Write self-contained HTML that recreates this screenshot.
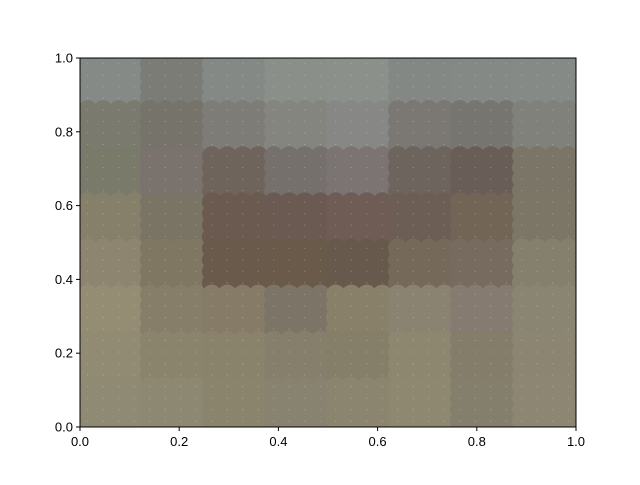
<!DOCTYPE html>
<html><head><meta charset="utf-8"><style>
body{margin:0;background:#fff;}
svg text{font-family:"Liberation Sans","DejaVu Sans",sans-serif;font-size:13px;fill:#000;}
</style></head><body>
<svg id="chart" width="640" height="480" viewBox="0 0 640 480">
<defs><clipPath id="clip"><rect x="80" y="58" width="496" height="369"/></clipPath></defs>
<rect x="80" y="58" width="496" height="369" fill="#7e7a6c"/>
<g id="marks" clip-path="url(#clip)"></g>
<g id="axes"></g>
<rect x="80" y="58" width="496" height="369" fill="none" stroke="#000" stroke-width="1"/>
</svg>
<script>
// Color blocks (8x8), top row first; each block covers 4x4 points of a 32x32 grid
const colorRows = [
 ["#858a86","#7c7c77","#858985","#8a8f89","#8b908a","#848884","#848986","#858a86"],
 ["#7a7b6e","#76736a","#7d7c76","#858580","#878786","#7b7772","#77756f","#80817a"],
 ["#7a7a6a","#7a726c","#6e645c","#75706c","#7b7473","#6e645e","#685d57","#7a7567"],
 ["#86806a","#7a7464","#6a5a50","#6b5a52","#6e5c55","#6c5e54","#726556","#7c7667"],
 ["#8d8570","#807763","#6a5a4b","#6a5a4a","#675a4c","#75695a","#776b5f","#857f6d"],
 ["#958c74","#867e69","#857b67","#7d7468","#898069","#8a8371","#857b70","#8a8472"],
 ["#928b73","#8a846d","#8a836b","#857f6c","#857e68","#8e8770","#837d6a","#8c8571"],
 ["#8f8a74","#8d8872","#8a846c","#888270","#8b856f","#8e8870","#847f6c","#8c8672"]
];
const gridN = 32;
const xTicks = [0,0.2,0.4,0.6,0.8,1.0];
const yTicks = [0,0.2,0.4,0.6,0.8,1.0];
const xTickLabels = ["0.0","0.2","0.4","0.6","0.8","1.0"];
const yTickLabels = ["0.0","0.2","0.4","0.6","0.8","1.0"];

const X0=80,X1=576,Y0=427,Y1=58;
const sx=v=>X0+v*(X1-X0);
const sy=v=>Y0-v*(Y0-Y1);
const NS="http://www.w3.org/2000/svg";
const marks=document.getElementById('marks');
for(let r=0;r<gridN;r++){
  for(let c=0;c<gridN;c++){
    const xv=(c+0.5)/gridN, yv=1-(r+0.5)/gridN;
    const col=colorRows[Math.floor(r/4)][Math.floor(c/4)];
    const ci=document.createElementNS(NS,'circle');
    ci.setAttribute('cx',sx(xv));ci.setAttribute('cy',sy(yv));
    ci.setAttribute('r',9.8);ci.setAttribute('fill',col);
    
    
    marks.appendChild(ci);
  }
}
for(let r=0;r<gridN;r++){
  for(let c=0;c<gridN;c++){
    const xv=(c+0.5)/gridN, yv=1-(r+0.5)/gridN;
    const d=document.createElementNS(NS,'rect');
    d.setAttribute('x',sx(xv)-0.5);d.setAttribute('y',sy(yv)-0.5);
    d.setAttribute('width',1);d.setAttribute('height',1);
    d.setAttribute('fill','#fff');d.setAttribute('opacity','0.3');
    
    
    marks.appendChild(d);
  }
}
const axes=document.getElementById('axes');
xTicks.forEach((t,i)=>{
  const l=document.createElementNS(NS,'line');
  l.setAttribute('x1',sx(t));l.setAttribute('x2',sx(t));l.setAttribute('y1',Y0);l.setAttribute('y2',Y0+4);
  l.setAttribute('stroke','#000');
  
  
  axes.appendChild(l);
  const tx=document.createElementNS(NS,'text');
  tx.setAttribute('x',sx(t));tx.setAttribute('y',Y0+19);tx.setAttribute('text-anchor','middle');
  tx.textContent=xTickLabels[i];
  
  
  axes.appendChild(tx);
});
yTicks.forEach((t,i)=>{
  const l=document.createElementNS(NS,'line');
  l.setAttribute('x1',X0-4);l.setAttribute('x2',X0);l.setAttribute('y1',sy(t));l.setAttribute('y2',sy(t));
  l.setAttribute('stroke','#000');
  
  
  axes.appendChild(l);
  const tx=document.createElementNS(NS,'text');
  tx.setAttribute('x',X0-7);tx.setAttribute('y',sy(t)+4.5);tx.setAttribute('text-anchor','end');
  tx.textContent=yTickLabels[i];
  
  
  axes.appendChild(tx);
});
</script>
</body></html>
